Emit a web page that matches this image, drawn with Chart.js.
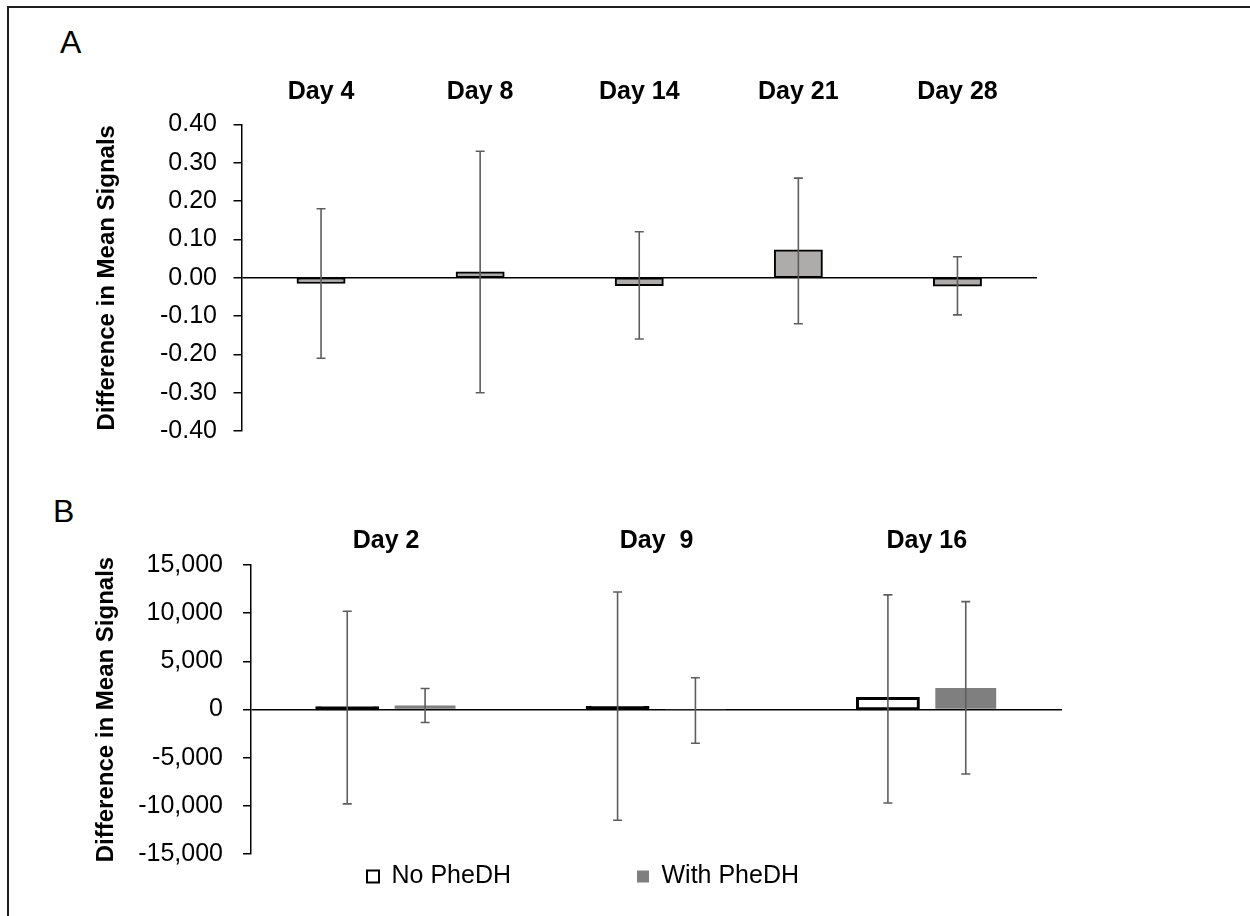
<!DOCTYPE html>
<html>
<head>
<meta charset="utf-8">
<script src="https://cdn.jsdelivr.net/npm/chart.js@4.4.0/dist/chart.umd.min.js"></script>
<style>
  html, body { margin: 0; padding: 0; background: #fff; overflow: hidden; }
  #page { position: relative; width: 1250px; height: 916px; overflow: hidden; background: #fff; }
  #page canvas { position: absolute; left: 0; top: 0; }
  .frame { position: absolute; left: 7px; top: 6px; width: 1300px; height: 1000px;
           border-left: 2px solid #1e1e1e; border-top: 2px solid #1e1e1e; }
  .panel { position: absolute; font: 32px "Liberation Sans", Arial, sans-serif; line-height: 32px; color: #000; }
</style>
</head>
<body>
<div id="page">
  <div class="frame"></div>
  <div class="panel" style="left:60px; top:26px;">A</div>
  <div class="panel" style="left:53px; top:495px;">B</div>
  <canvas id="chartA" width="1250" height="916"></canvas>
  <canvas id="chartB" width="1250" height="916"></canvas>
</div>
<script>
// Panel A values
const daysA = ['Day 4', 'Day 8', 'Day 14', 'Day 21', 'Day 28'];
const diffA = [-0.013, 0.014, -0.019, 0.071, -0.020];
const errHighA = [0.18, 0.33, 0.12, 0.26, 0.055];
const errLowA = [-0.21, -0.30, -0.16, -0.12, -0.097];

// Panel B values
const daysB = ['Day 2', 'Day  9', 'Day 16'];
const noPheDH = [190, 220, 1150];
const noPheDHHigh = [10200, 12200, 11900];
const noPheDHLow = [-9800, -11500, -9700];
const withPheDH = [415, -20, 2240];
const withPheDHHigh = [2180, 3300, 11200];
const withPheDHLow = [-1350, -3500, -6700];

const FONT = '"Liberation Sans", Arial, sans-serif';
Chart.defaults.font.family = FONT;
Chart.defaults.color = '#000';

// only the zero line is drawn across the plot
const zeroLine = c => (c.tick && Math.abs(c.tick.value) < 1e-9) ? '#000' : 'rgba(0,0,0,0)';

// draws the whiskers stored on each dataset
const errorBars = {
  id: 'errorBars',
  afterDatasetsDraw(chart) {
    const ctx = chart.ctx;
    const yScale = chart.scales.y;
    ctx.save();
    ctx.strokeStyle = '#5e5e5e';
    ctx.lineWidth = 1.6;
    chart.data.datasets.forEach((ds, i) => {
      chart.getDatasetMeta(i).data.forEach((bar, j) => {
        const yHi = yScale.getPixelForValue(ds.errHigh[j]);
        const yLo = yScale.getPixelForValue(ds.errLow[j]);
        const x = bar.x;
        ctx.beginPath();
        ctx.moveTo(x, yHi); ctx.lineTo(x, yLo);
        ctx.moveTo(x - 4.5, yHi); ctx.lineTo(x + 4.5, yHi);
        ctx.moveTo(x - 4.5, yLo); ctx.lineTo(x + 4.5, yLo);
        ctx.stroke();
      });
    });
    ctx.restore();
  }
};

// put the legend row where the original has it
const legendSpot = {
  id: 'legendSpot',
  afterLayout(chart) {
    const lg = chart.legend;
    const pad = lg.options.labels.padding;
    lg.left = 367 - pad;
    lg.top = 864 - pad;
  }
};

function yTitle(padTop) {
  return {
    display: true,
    text: 'Difference in Mean Signals',
    font: { size: 24, weight: 'bold' },
    padding: { top: padTop, bottom: 0 },
    color: '#000'
  };
}

// day labels sit above the plot; the box is tall enough so they are not clipped
function topAxis(gap) {
  return {
    position: 'top',
    grid: { display: false, drawTicks: false },
    border: { display: false },
    ticks: { font: { size: 25, weight: 'bold' }, padding: gap, color: '#000', maxRotation: 0, autoSkip: false },
    afterFit: s => { s.height = 60; }
  };
}

new Chart(document.getElementById('chartA'), {
  type: 'bar',
  data: {
    labels: daysA,
    datasets: [{
      label: 'Difference',
      data: diffA,
      errHigh: errHighA,
      errLow: errLowA,
      backgroundColor: '#aeabab',
      borderColor: '#000',
      borderWidth: 2,
      borderSkipped: false,
      inflateAmount: 1,
      categoryPercentage: 1,
      barPercentage: 0.295
    }]
  },
  options: {
    responsive: false,
    animation: false,
    layout: { padding: { left: 0, top: 64.5, right: 213, bottom: 485 } },
    plugins: { legend: { display: false }, tooltip: { enabled: false } },
    scales: {
      x: topAxis(17),
      y: {
        min: -0.4,
        max: 0.4,
        ticks: { stepSize: 0.1, callback: v => v.toFixed(2), font: { size: 25 }, padding: 16.5, color: '#000' },
        grid: { color: zeroLine, tickColor: '#000', tickLength: 8, lineWidth: 1.5 },
        border: { color: '#000', width: 1.5 },
        title: yTitle(93),
        afterFit: s => { s.width = 241.5; }
      }
    }
  },
  plugins: [errorBars]
});

new Chart(document.getElementById('chartB'), {
  type: 'bar',
  data: {
    labels: daysB,
    datasets: [{
      label: 'No PheDH',
      data: noPheDH,
      errHigh: noPheDHHigh,
      errLow: noPheDHLow,
      // Excel strokes over very short bars, so they read as solid black
      backgroundColor: c => {
        if (c.type !== 'data') return '#fff';
        const y = c.chart.scales.y;
        const h = Math.abs(y.getPixelForValue(c.parsed.y) - y.getPixelForValue(0));
        return h < 3 ? '#000' : '#fff';
      },
      borderColor: '#000',
      borderWidth: 3,
      borderSkipped: false,
      inflateAmount: 1.5,
      categoryPercentage: 0.576,
      barPercentage: 0.782
    }, {
      label: 'With PheDH',
      data: withPheDH,
      errHigh: withPheDHHigh,
      errLow: withPheDHLow,
      backgroundColor: '#7f7f7f',
      borderWidth: 0,
      inflateAmount: 0,
      categoryPercentage: 0.576,
      barPercentage: 0.782
    }]
  },
  options: {
    responsive: false,
    animation: false,
    layout: { padding: { left: 0, top: 505, right: 188, bottom: 22 } },
    plugins: {
      tooltip: { enabled: false },
      legend: {
        position: 'bottom',
        align: 'start',
        maxHeight: 40,
        labels: {
          boxWidth: 12,
          boxHeight: 12,
          padding: 126,
          font: { size: 25 },
          color: '#000',
          generateLabels: chart => chart.data.datasets.map((ds, i) => ({
            text: ds.label,
            fillStyle: i === 0 ? '#fff' : '#7f7f7f',
            strokeStyle: '#000',
            lineWidth: i === 0 ? 2 : 0,
            hidden: false,
            datasetIndex: i
          }))
        }
      }
    },
    scales: {
      x: topAxis(9),
      y: {
        min: -15000,
        max: 15000,
        ticks: { stepSize: 5000, callback: v => v.toLocaleString('en-US'), font: { size: 25 }, padding: 20, color: '#000' },
        grid: { color: zeroLine, tickColor: '#000', tickLength: 8, lineWidth: 1.5 },
        border: { color: '#000', width: 1.5 },
        title: yTitle(91.6),
        afterFit: s => { s.width = 251; }
      }
    }
  },
  plugins: [errorBars, legendSpot]
});
</script>
</body>
</html>
